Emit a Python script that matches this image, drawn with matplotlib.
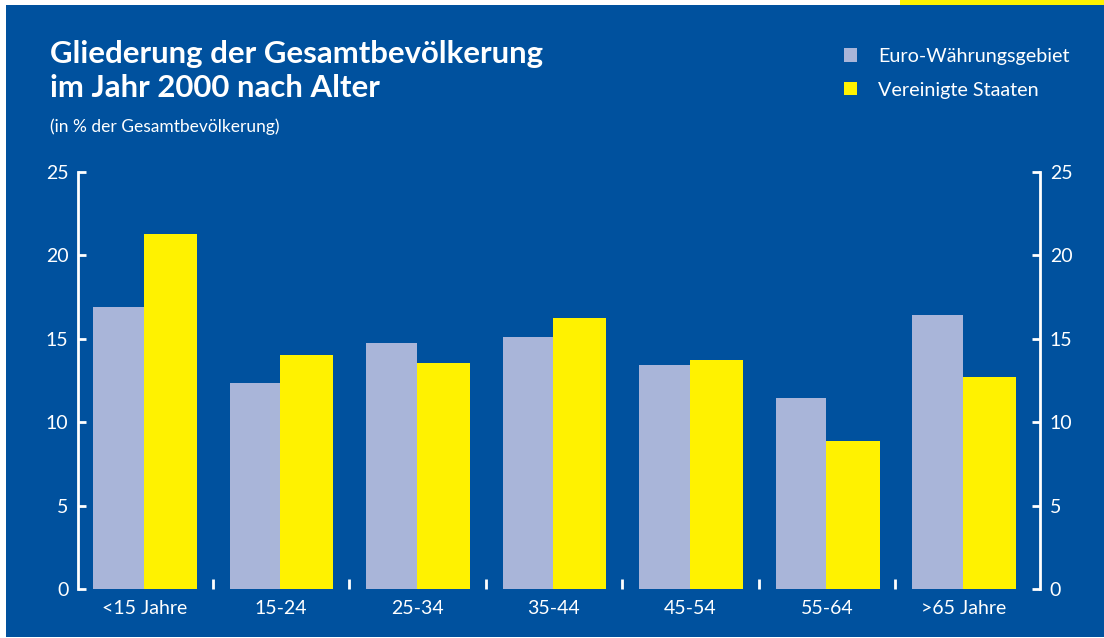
import matplotlib
matplotlib.use("Agg")
import matplotlib.pyplot as plt
from matplotlib.patches import Rectangle, Patch
import numpy as np

plt.rcParams['font.family'] = ['Lato', 'DejaVu Sans']

categories = ['<15 Jahre', '15-24', '25-34', '35-44', '45-54', '55-64', '>65 Jahre']
euro = [16.9, 12.35, 14.75, 15.1, 13.4, 11.45, 16.4]
usa = [21.3, 14.0, 13.55, 16.25, 13.7, 8.9, 12.7]
series_names = ['Euro-Währungsgebiet', 'Vereinigte Staaten']

blue = '#00519E'
grey = '#A9B5D9'
yellow = '#FFF200'

fig = plt.figure(figsize=(11.04, 6.38), dpi=100)
fig.patch.set_facecolor('white')

# blauer Hintergrund + gelber Streifen oben rechts
fig.patches.append(Rectangle((6 / 1104, 1 / 638), 1 - 6 / 1104, 1 - 6 / 638,
                             transform=fig.transFigure, facecolor=blue, edgecolor='none', zorder=-10))
fig.patches.append(Rectangle((900 / 1104, 1 - 5 / 638), 204 / 1104, 5 / 638,
                             transform=fig.transFigure, facecolor=yellow, edgecolor='none', zorder=-10))

ax = fig.add_axes([78 / 1104, 1 - 589 / 638, (1040 - 78) / 1104, (589 - 172) / 638])
ax.set_facecolor('none')

x = np.arange(len(categories))
ax.bar(x - 0.19, euro, width=0.37, color=grey, zorder=2)
ax.bar(x + 0.19, usa, width=0.39, color=yellow, zorder=2)

ax.set_xlim(-0.485, 6.56)
ax.set_ylim(0, 25)
ax.set_yticks([0, 5, 10, 15, 20, 25])

for s in ['top', 'bottom']:
    ax.spines[s].set_visible(False)
for s in ['left', 'right']:
    ax.spines[s].set_color('white')
    ax.spines[s].set_linewidth(2)

ax.tick_params(axis='y', direction='in', length=6, width=2, color='white',
               labelcolor='white', labelsize=14, left=True, right=True,
               labelleft=True, labelright=True, pad=7)

# Kategorien als Text, Trennstriche als Minor-Ticks
ax.set_xticks(x)
ax.set_xticklabels(categories)
ax.tick_params(axis='x', which='major', length=0, labelcolor='white', labelsize=14, pad=8)
ax.set_xticks(np.arange(len(categories) - 1) + 0.5, minor=True)
ax.tick_params(axis='x', which='minor', direction='in', length=7, width=2, color='white')

fig.text(50 / 1104, 1 - 40 / 638, 'Gliederung der Gesamtbevölkerung\nim Jahr 2000 nach Alter',
         color='white', fontsize=22.4, fontweight='bold', va='top', ha='left', linespacing=1.28)
fig.text(50 / 1104, 1 - 127 / 638, '(in % der Gesamtbevölkerung)',
         color='white', fontsize=12.5, va='center', ha='left')

handles = [Patch(facecolor=grey), Patch(facecolor=yellow)]
leg = fig.legend(handles, series_names, loc='upper left',
                 bbox_to_anchor=(826 / 1104, 1 - 30 / 638), frameon=False,
                 handlelength=0.68, handleheight=0.68, handletextpad=1.05,
                 labelspacing=0.85, fontsize=14.2, labelcolor='white')

fig.savefig('out.png', dpi=100, facecolor=fig.get_facecolor())
